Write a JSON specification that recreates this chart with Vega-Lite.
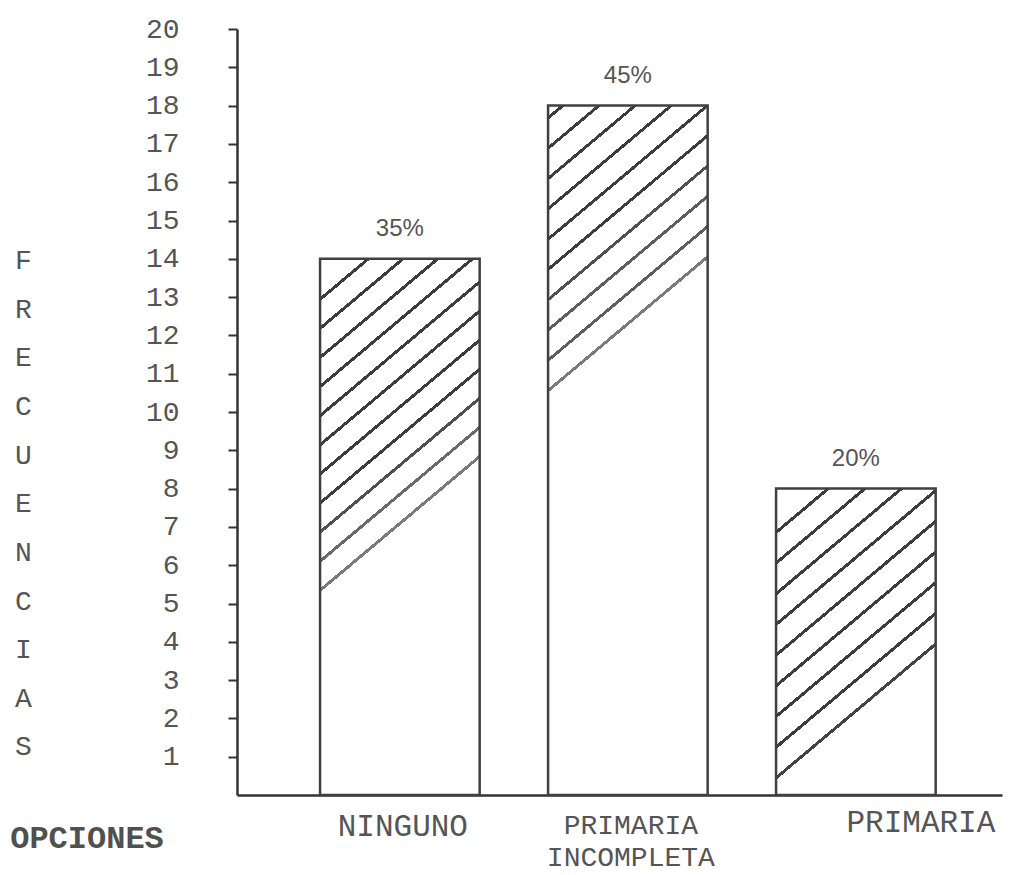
{
  "$schema": "https://vega.github.io/schema/vega-lite/v6.json",
  "width": 765,
  "height": 766,
  "autosize": {"type": "none"},
  "padding": {"left": 237, "top": 29, "right": 9, "bottom": 80},
  "background": "white",
  "config": {"view": {"stroke": null}},
  "data": {
    "values": [
      {"opcion": "NINGUNO", "frecuencia": 14, "porcentaje": "35%"},
      {"opcion": "PRIMARIA INCOMPLETA", "frecuencia": 18, "porcentaje": "45%"},
      {"opcion": "PRIMARIA", "frecuencia": 8, "porcentaje": "20%"}
    ]
  },
  "encoding": {
    "x": {
      "field": "opcion",
      "type": "nominal",
      "sort": null,
      "scale": {
        "domain": ["NINGUNO", "PRIMARIA INCOMPLETA", "PRIMARIA"],
        "paddingInner": 0.3,
        "paddingOuter": 0.3276,
        "align": 0.556
      },
      "axis": {
        "title": "OPCIONES",
        "titleX": -150.5,
        "titleY": 52,
        "titleAlign": "center",
        "titleBaseline": "alphabetic",
        "titleAngle": 0,
        "titleFont": "Liberation Mono",
        "titleFontSize": 32,
        "titleFontWeight": "bold",
        "titleColor": "#505050",
        "labelAngle": 0,
        "labelAlign": "center",
        "labelFont": "Liberation Mono",
        "labelFontSize": {"condition": {"test": "datum.value === 'PRIMARIA INCOMPLETA'", "value": 28}, "value": 31},
        "labelColor": "#555555",
        "labelBaseline": "top",
        "labelLineHeight": 32,
        "labelLimit": 0,
        "labelOverlap": false,
        "labelBound": false,
        "labelExpr": "datum.value === 'PRIMARIA INCOMPLETA' ? ['PRIMARIA', 'INCOMPLETA'] : datum.label",
        "labelOffset": {"condition": {"test": "datum.value === 'PRIMARIA'", "value": 65}, "value": 3},
        "labelPadding": {"condition": {"test": "datum.value === 'PRIMARIA'", "value": 12}, "value": 16},
        "ticks": false,
        "tickSize": 0,
        "grid": false,
        "domainColor": "#333333",
        "domainWidth": 2.5
      }
    },
    "y": {
      "field": "frecuencia",
      "type": "quantitative",
      "scale": {"domain": [0, 20], "nice": false, "zero": true},
      "axis": {
        "values": [1, 2, 3, 4, 5, 6, 7, 8, 9, 10, 11, 12, 13, 14, 15, 16, 17, 18, 19, 20],
        "title": ["F", "R", "E", "C", "U", "E", "N", "C", "I", "A", "S"],
        "titleAngle": 0,
        "titleX": -214,
        "titleY": 239.5,
        "titleAlign": "center",
        "titleBaseline": "alphabetic",
        "titleFont": "Liberation Mono",
        "titleFontSize": 28,
        "titleFontWeight": "normal",
        "titleColor": "#555555",
        "titleLineHeight": 48.65,
        "labelFont": "Liberation Mono",
        "labelFontSize": 28,
        "labelColor": "#555555",
        "labelPadding": 49,
        "labelFlush": false,
        "labelOverlap": false,
        "tickSize": 9,
        "tickWidth": 2,
        "tickColor": "#333333",
        "grid": false,
        "domainColor": "#333333",
        "domainWidth": 2.5
      }
    }
  },
  "layer": [
    {
      "transform": [{"filter": "datum.opcion === 'NINGUNO'"}],
      "mark": {
        "type": "bar",
        "stroke": "#404040",
        "strokeWidth": 2.5,
        "fill": {
          "gradient": "linear", "x1": 0, "y1": 0, "x2": 0.2497, "y2": 1,
          "stops": [
            {"offset": 0, "color": "white"},
            {"offset": 0.0676, "color": "white"}, {"offset": 0.0676, "color": "#3d3d3d"}, {"offset": 0.0746, "color": "#3d3d3d"}, {"offset": 0.0746, "color": "white"},
            {"offset": 0.1187, "color": "white"}, {"offset": 0.1187, "color": "#3d3d3d"}, {"offset": 0.1257, "color": "#3d3d3d"}, {"offset": 0.1257, "color": "white"},
            {"offset": 0.1698, "color": "white"}, {"offset": 0.1698, "color": "#3d3d3d"}, {"offset": 0.1768, "color": "#3d3d3d"}, {"offset": 0.1768, "color": "white"},
            {"offset": 0.2209, "color": "white"}, {"offset": 0.2209, "color": "#3d3d3d"}, {"offset": 0.2279, "color": "#3d3d3d"}, {"offset": 0.2279, "color": "white"},
            {"offset": 0.2720, "color": "white"}, {"offset": 0.2720, "color": "#3d3d3d"}, {"offset": 0.2790, "color": "#3d3d3d"}, {"offset": 0.2790, "color": "white"},
            {"offset": 0.3231, "color": "white"}, {"offset": 0.3231, "color": "#3d3d3d"}, {"offset": 0.3301, "color": "#3d3d3d"}, {"offset": 0.3301, "color": "white"},
            {"offset": 0.3742, "color": "white"}, {"offset": 0.3742, "color": "#3d3d3d"}, {"offset": 0.3812, "color": "#3d3d3d"}, {"offset": 0.3812, "color": "white"},
            {"offset": 0.4253, "color": "white"}, {"offset": 0.4253, "color": "#3d3d3d"}, {"offset": 0.4323, "color": "#3d3d3d"}, {"offset": 0.4323, "color": "white"},
            {"offset": 0.4764, "color": "white"}, {"offset": 0.4764, "color": "#505050"}, {"offset": 0.4834, "color": "#505050"}, {"offset": 0.4834, "color": "white"},
            {"offset": 0.5275, "color": "white"}, {"offset": 0.5275, "color": "#6a6a6a"}, {"offset": 0.5345, "color": "#6a6a6a"}, {"offset": 0.5345, "color": "white"},
            {"offset": 0.5786, "color": "white"}, {"offset": 0.5786, "color": "#7a7a7a"}, {"offset": 0.5856, "color": "#7a7a7a"}, {"offset": 0.5856, "color": "white"},
            {"offset": 1, "color": "white"}
          ]
        }
      }
    },
    {
      "transform": [{"filter": "datum.opcion === 'PRIMARIA INCOMPLETA'"}],
      "mark": {
        "type": "bar",
        "stroke": "#404040",
        "strokeWidth": 2.5,
        "fill": {
          "gradient": "linear", "x1": 0, "y1": 0, "x2": 0.1942, "y2": 1,
          "stops": [
            {"offset": 0, "color": "white"},
            {"offset": 0.0146, "color": "white"}, {"offset": 0.0146, "color": "#3d3d3d"}, {"offset": 0.0201, "color": "#3d3d3d"}, {"offset": 0.0201, "color": "white"},
            {"offset": 0.0569, "color": "white"}, {"offset": 0.0569, "color": "#3d3d3d"}, {"offset": 0.0624, "color": "#3d3d3d"}, {"offset": 0.0624, "color": "white"},
            {"offset": 0.0993, "color": "white"}, {"offset": 0.0993, "color": "#3d3d3d"}, {"offset": 0.1048, "color": "#3d3d3d"}, {"offset": 0.1048, "color": "white"},
            {"offset": 0.1416, "color": "white"}, {"offset": 0.1416, "color": "#3d3d3d"}, {"offset": 0.1471, "color": "#3d3d3d"}, {"offset": 0.1471, "color": "white"},
            {"offset": 0.1840, "color": "white"}, {"offset": 0.1840, "color": "#3d3d3d"}, {"offset": 0.1895, "color": "#3d3d3d"}, {"offset": 0.1895, "color": "white"},
            {"offset": 0.2263, "color": "white"}, {"offset": 0.2263, "color": "#3d3d3d"}, {"offset": 0.2318, "color": "#3d3d3d"}, {"offset": 0.2318, "color": "white"},
            {"offset": 0.2686, "color": "white"}, {"offset": 0.2686, "color": "#505050"}, {"offset": 0.2741, "color": "#505050"}, {"offset": 0.2741, "color": "white"},
            {"offset": 0.3110, "color": "white"}, {"offset": 0.3110, "color": "#5e5e5e"}, {"offset": 0.3165, "color": "#5e5e5e"}, {"offset": 0.3165, "color": "white"},
            {"offset": 0.3533, "color": "white"}, {"offset": 0.3533, "color": "#5e5e5e"}, {"offset": 0.3588, "color": "#5e5e5e"}, {"offset": 0.3588, "color": "white"},
            {"offset": 0.3957, "color": "white"}, {"offset": 0.3957, "color": "#7a7a7a"}, {"offset": 0.4012, "color": "#7a7a7a"}, {"offset": 0.4012, "color": "white"},
            {"offset": 1, "color": "white"}
          ]
        }
      }
    },
    {
      "transform": [{"filter": "datum.opcion === 'PRIMARIA'"}],
      "mark": {
        "type": "bar",
        "stroke": "#404040",
        "strokeWidth": 2.5,
        "fill": {
          "gradient": "linear", "x1": 0, "y1": 0, "x2": 0.437, "y2": 1,
          "stops": [
            {"offset": 0, "color": "white"},
            {"offset": 0.1145, "color": "white"}, {"offset": 0.1145, "color": "#3d3d3d"}, {"offset": 0.1255, "color": "#3d3d3d"}, {"offset": 0.1255, "color": "white"},
            {"offset": 0.1986, "color": "white"}, {"offset": 0.1986, "color": "#3d3d3d"}, {"offset": 0.2096, "color": "#3d3d3d"}, {"offset": 0.2096, "color": "white"},
            {"offset": 0.2827, "color": "white"}, {"offset": 0.2827, "color": "#3d3d3d"}, {"offset": 0.2937, "color": "#3d3d3d"}, {"offset": 0.2937, "color": "white"},
            {"offset": 0.3668, "color": "white"}, {"offset": 0.3668, "color": "#3d3d3d"}, {"offset": 0.3778, "color": "#3d3d3d"}, {"offset": 0.3778, "color": "white"},
            {"offset": 0.4509, "color": "white"}, {"offset": 0.4509, "color": "#3d3d3d"}, {"offset": 0.4619, "color": "#3d3d3d"}, {"offset": 0.4619, "color": "white"},
            {"offset": 0.5350, "color": "white"}, {"offset": 0.5350, "color": "#3d3d3d"}, {"offset": 0.5460, "color": "#3d3d3d"}, {"offset": 0.5460, "color": "white"},
            {"offset": 0.6191, "color": "white"}, {"offset": 0.6191, "color": "#3d3d3d"}, {"offset": 0.6301, "color": "#3d3d3d"}, {"offset": 0.6301, "color": "white"},
            {"offset": 0.7032, "color": "white"}, {"offset": 0.7032, "color": "#3d3d3d"}, {"offset": 0.7142, "color": "#3d3d3d"}, {"offset": 0.7142, "color": "white"},
            {"offset": 0.7873, "color": "white"}, {"offset": 0.7873, "color": "#444444"}, {"offset": 0.7983, "color": "#444444"}, {"offset": 0.7983, "color": "white"},
            {"offset": 1, "color": "white"}
          ]
        }
      }
    },
    {
      "mark": {
        "type": "text",
        "font": "Liberation Sans",
        "fontSize": 24,
        "color": "#555555",
        "baseline": "alphabetic",
        "align": "center",
        "dy": -23
      },
      "encoding": {
        "text": {"field": "porcentaje", "type": "nominal"}
      }
    }
  ]
}
